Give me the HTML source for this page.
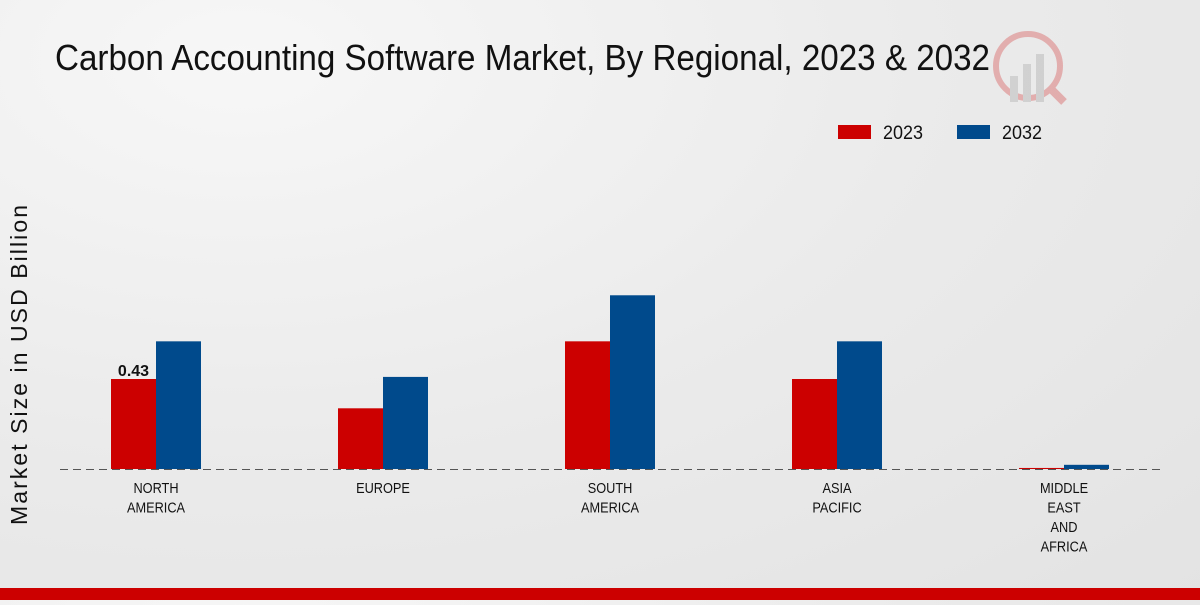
<!DOCTYPE html>
<html><head><meta charset="utf-8"><style>
html,body{margin:0;padding:0;}
body{width:1200px;height:600px;overflow:hidden;background:radial-gradient(ellipse at 20% 10%,#f7f7f7 0%,#ebebeb 50%,#e3e3e3 100%);font-family:"Liberation Sans",sans-serif;}
</style></head><body>
<svg width="1200" height="600" xmlns="http://www.w3.org/2000/svg">
<text x="55" y="70" font-size="36" fill="#111" textLength="935" lengthAdjust="spacingAndGlyphs">Carbon Accounting Software Market, By Regional, 2023 &amp; 2032</text>
<g opacity="0.25">
<circle cx="1028" cy="66" r="32" fill="none" stroke="#c00" stroke-width="6"/>
<rect x="1010" y="76" width="8" height="26" fill="#888"/><rect x="1023" y="64" width="8" height="38" fill="#888"/><rect x="1036" y="54" width="8" height="48" fill="#888"/>
<line x1="1050" y1="88" x2="1064" y2="102" stroke="#c00" stroke-width="8"/>
</g>
<g>
<rect x="838" y="125" width="33" height="14" fill="#cc0000"/>
<text x="883" y="139" font-size="19" textLength="40" lengthAdjust="spacingAndGlyphs" fill="#111">2023</text>
<rect x="957" y="125" width="33" height="14" fill="#004a8c"/>
<text x="1002" y="139" font-size="19" textLength="40" lengthAdjust="spacingAndGlyphs" fill="#111">2032</text>
</g>
<text transform="translate(27,365) rotate(-90)" text-anchor="middle" font-size="23" fill="#111" textLength="320" lengthAdjust="spacing">Market Size in USD Billion</text>
<g id="bars"></g>
<line x1="60" y1="469.5" x2="1160" y2="469.5" stroke="#555" stroke-dasharray="8,5"/>
<g id="labels"></g>
<rect x="0" y="588" width="1200" height="12" fill="#cc0000"/>
</svg>
<script>
const categories=[["NORTH","AMERICA"],["EUROPE"],["SOUTH","AMERICA"],["ASIA","PACIFIC"],["MIDDLE","EAST","AND","AFRICA"]];
const values2023=[0.43,0.29,0.61,0.43,0.005];
const values2032=[0.61,0.44,0.83,0.61,0.02];
const shownLabels=["0.43",null,null,null,null];
const ns="http://www.w3.org/2000/svg";
const base=469,scale=209.3,x0=156,step=227,bw=45;
const yOf=v=>base-v*scale;
const bars=document.getElementById('bars'),labels=document.getElementById('labels');
categories.forEach((c,i)=>{
  const cx=x0+i*step;
  [[values2023,'#cc0000',-bw,'2023'],[values2032,'#004a8c',0,'2032']].forEach(([arr,col,off,yr])=>{
    const r=document.createElementNS(ns,'rect');
    r.setAttribute('x',cx+off);r.setAttribute('y',yOf(arr[i]));
    r.setAttribute('width',bw);r.setAttribute('height',base-yOf(arr[i]));
    r.setAttribute('fill',col);
    
    
    bars.appendChild(r);
  });
  if(shownLabels[i]){
    const t=document.createElementNS(ns,'text');
    t.setAttribute('x',cx-bw/2);t.setAttribute('y',yOf(values2023[i])-3);
    t.setAttribute('text-anchor','middle');t.setAttribute('font-size','16');t.setAttribute('font-weight','bold');
    t.setAttribute('fill','#111');
    t.textContent=shownLabels[i];
    
    
    bars.appendChild(t);
  }
  c.forEach((line,j)=>{
    const t=document.createElementNS(ns,'text');
    t.setAttribute('transform','translate('+cx+','+(493+j*19.5)+') scale(0.85,1)');
    t.setAttribute('text-anchor','middle');t.setAttribute('font-size','15');t.setAttribute('fill','#111');
    t.textContent=line;
    
    
    labels.appendChild(t);
  });
});
</script>
</body></html>
